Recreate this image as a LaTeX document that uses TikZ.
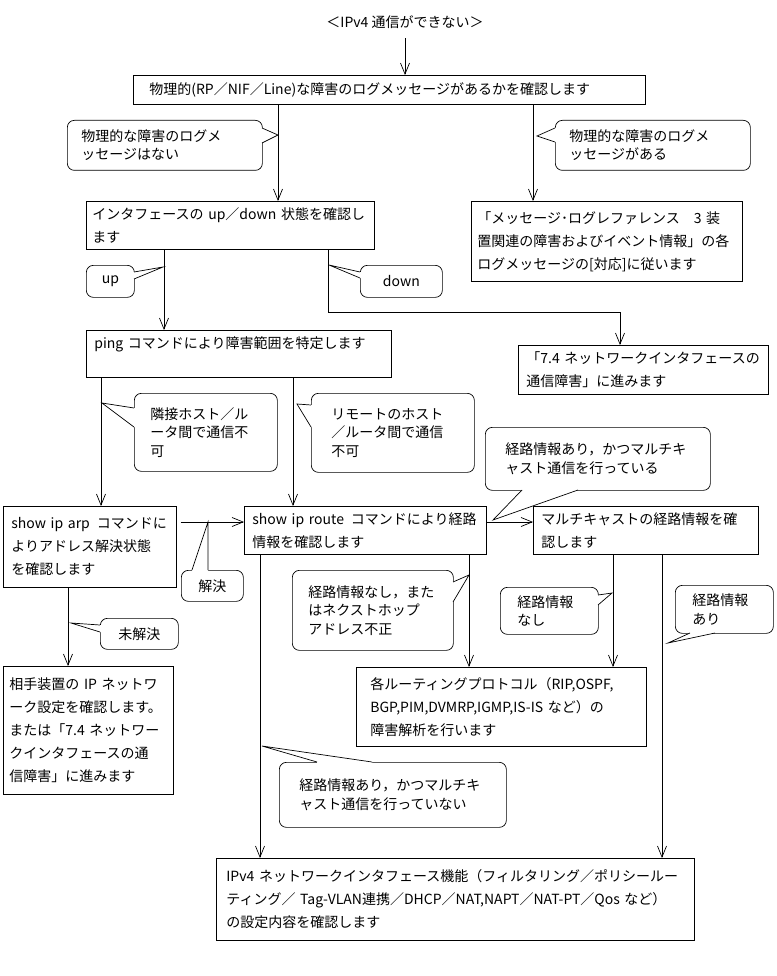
\documentclass[tikz,border=0pt]{standalone}
\usepackage{fontspec}
\setmainfont{Noto Sans CJK JP}
\usetikzlibrary{arrows.meta, calc}

\newcommand{\boxfont}{\fontsize{14}{23}\selectfont}
\newcommand{\talkfont}{\fontsize{14}{18.5}\selectfont}
% bico do balao: base 1, ponta, base 2, deslocamento para dentro
\newcommand{\beak}[4]{%
  \fill[white] ($#1+#4$) -- #1 -- #2 -- #3 -- ($#3+#4$) -- cycle;
  \draw #1 -- #2 -- #3;}

\begin{document}
\begin{tikzpicture}[x=1pt, y=-1pt, line width=0.7pt,
    >={Straight Barb[length=11pt,width=9pt]},
    box/.style={draw, anchor=north west, align=left, inner xsep=8pt,
      inner ysep=0pt, font=\boxfont},
    talk/.style={draw, rounded corners=7pt, anchor=north west, align=left,
      inner xsep=14pt, inner ysep=0pt, font=\talkfont}]

      \useasboundingbox (0,0) rectangle (776,976);

      % Colunas e linhas das setas
      \coordinate (k405) at (405,0);
      \coordinate (k278) at (278,0);
      \coordinate (k533) at (533,0);
      \coordinate (k164) at (164,0);
      \coordinate (k328) at (328,0);
      \coordinate (k620) at (620,0);
      \coordinate (k101) at (101,0);
      \coordinate (k293) at (293,0);
      \coordinate (k68) at (68,0);
      \coordinate (k469) at (469,0);
      \coordinate (k260) at (260,0);
      \coordinate (k613) at (613,0);
      \coordinate (k662) at (662,0);
      \coordinate (r312) at (0,312);
      \coordinate (r522) at (0,522);

      % Titulo
      \node[font=\boxfont] (title) at (405,22) {＜IPv4 通信ができない＞};

      % Blocos
      \node[box, minimum width=512pt, minimum height=29pt, text width=480pt,
        inner xsep=16pt] (phys) at (133,75)
        {物理的(RP／NIF／Line)な障害のログメッセージがあるかを確認します};
      \node[box, minimum width=288pt, minimum height=48pt, text width=276pt,
        inner xsep=6pt] (ifst) at (86,201)
        {インタフェースの~up／down~状態を確認し\\ます};
      \node[box, minimum width=271pt, minimum height=80pt, text width=259pt,
        inner xsep=6pt] (msglog) at (471,201)
        {「メッセージ･ログレファレンス\quad 3 装\\置関連の障害およびイベント情報」の各\\ログメッセージの[対応]に従います};
      \node[box, minimum width=305pt, minimum height=47pt, text width=289pt]
        (ping) at (86,330)
        {ping コマンドにより障害範囲を特定します\\\mbox{}};
      \node[box, minimum width=250pt, minimum height=49pt, text width=234pt]
        (nif74) at (518,345)
        {「7.4 ネットワークインタフェースの\\通信障害」に進みます};
      \node[box, minimum width=173pt, minimum height=81pt, text width=157pt]
        (arp) at (3,506)
        {show~ip~arp\enskip コマンドに\\よりアドレス解決状態\\を確認します};
      \node[box, minimum width=242pt, minimum height=48pt, text width=226pt]
        (route) at (244,506)
        {show~ip~route\enskip コマンドにより経路\\情報を確認します};
      \node[box, minimum width=225pt, minimum height=48pt, text width=209pt]
        (mcast) at (533,506)
        {マルチキャストの経路情報を確\\認します};
      \node[box, minimum width=170pt, minimum height=128pt, text width=158pt,
        inner xsep=6pt] (remote) at (3,666)
        {相手装置の~IP~ネットワ\\ーク設定を確認します。\\または「7.4~ネットワー\\クインタフェースの通\\信障害」に進みます};
      \node[box, minimum width=290pt, minimum height=79pt, text width=262pt,
        inner xsep=14pt] (proto) at (356,667)
        {各ルーティングプロトコル（RIP,OSPF,\\BGP,PIM,DVMRP,IGMP,IS-IS~など）の\\障害解析を行います};
      \node[box, minimum width=478pt, minimum height=82pt, text width=458pt,
        inner xsep=10pt] (ifcfg) at (216,858)
        {IPv4 ネットワークインタフェース機能（フィルタリング／ポリシールー\\ティング／~Tag-VLAN連携／DHCP／NAT,NAPT／NAT-PT／Qos~など）\\の設定内容を確認します};

      % Baloes
      \node[talk, minimum width=195pt, minimum height=50pt, text width=167pt]
        (cNoLog) at (67,120) {物理的な障害のログメ\\ッセージはない};
      \node[talk, minimum width=195pt, minimum height=50pt, text width=167pt]
        (cLog) at (555,120) {物理的な障害のログメ\\ッセージがある};
      \node[talk, minimum width=48pt, minimum height=32pt, inner xsep=4pt]
        (cUp) at (86,265) {up};
      \node[talk, minimum width=82pt, minimum height=32pt, inner xsep=4pt]
        (cDown) at (360,265) {down};
      \node[talk, minimum width=143pt, minimum height=78pt, text width=111pt,
        inner xsep=16pt] (cAdj) at (134,393) {隣接ホスト／ル\\ータ間で通信不\\可};
      \node[talk, minimum width=163pt, minimum height=79pt, text width=123pt,
        inner xsep=20pt] (cRem) at (311,393) {リモートのホスト\\／ルータ間で通信\\不可};
      \node[talk, minimum width=225pt, minimum height=63pt, text width=185pt,
        inner xsep=20pt] (cMcY) at (485,427) {経路情報あり，かつマルチキ\\ャスト通信を行っている};
      \node[talk, minimum width=62pt, minimum height=31pt, inner xsep=4pt]
        (cRes) at (181,570) {解決};
      \node[talk, minimum width=161pt, minimum height=80pt, text width=129pt,
        inner xsep=16pt] (cNoRt) at (292,570) {経路情報なし，また\\はネクストホップ\\アドレス不正};
      \node[talk, minimum width=98pt, minimum height=47pt, text width=64pt,
        inner xsep=17pt] (cNoMc) at (500,587) {経路情報\\なし};
      \node[talk, minimum width=98pt, minimum height=48pt, text width=64pt,
        inner xsep=17pt] (cYesMc) at (675,585) {経路情報\\あり};
      \node[talk, minimum width=78pt, minimum height=31pt, inner xsep=4pt]
        (cUnres) at (100,618) {未解決};
      \node[talk, minimum width=227pt, minimum height=65pt, text width=187pt,
        inner xsep=20pt] (cNoMcNo) at (279,762) {経路情報あり，かつマルチキ\\ャスト通信を行っていない};

      % Bicos dos baloes
      \beak{(262,128)}{(278,135)}{(262,143)}{(-2,0)}
      \beak{(555,128)}{(537,136)}{(555,142)}{(2,0)}
      \beak{(134,272)}{(163,267)}{(134,279)}{(-2,0)}
      \beak{(360,272)}{(329,265)}{(360,278)}{(2,0)}
      \beak{(134,408)}{(102,403)}{(134,427)}{(2,0)}
      \beak{(311,405)}{(297,404)}{(311,427)}{(2,0)}
      \beak{(522,490)}{(493,520)}{(578,490)}{(0,-2)}
      \beak{(192,570)}{(208,522)}{(208,570)}{(0,2)}
      \beak{(453,582)}{(469,575)}{(453,602)}{(-2,0)}
      \beak{(598,595)}{(612,593)}{(598,605)}{(-2,0)}
      \beak{(690,633)}{(668,643)}{(715,633)}{(0,-2)}
      \beak{(100,625)}{(71,623)}{(100,632)}{(2,0)}
      \beak{(317,762)}{(262,746)}{(372,762)}{(0,2)}

      % Setas
      \draw[->, shorten <=6pt] (k405 |- title.south) -- (k405 |- phys.north);
      \draw[->] (k278 |- phys.south) -- (k278 |- ifst.north);
      \draw[->] (k533 |- phys.south) -- (k533 |- msglog.north);
      \draw[->] (k164 |- ifst.south) -- (k164 |- ping.north);
      \draw[->] (k328 |- ifst.south) |- (k620 |- r312) -- (k620 |- nif74.north);
      \draw[->] (k101 |- ping.south) -- (k101 |- arp.north);
      \draw[->] (k293 |- ping.south) -- (k293 |- route.north);
      \draw[->, shorten <=4pt] (arp.east |- r522) -- (route.west |- r522);
      \draw[->] (route.east |- r522) -- (mcast.west |- r522);
      \draw[->] (k68 |- arp.south) -- (k68 |- remote.north);
      \draw[->] (k469 |- route.south) -- (k469 |- proto.north);
      \draw[->] (k260 |- route.south) -- (k260 |- ifcfg.north);
      \draw[->] (k613 |- mcast.south) -- (k613 |- proto.north);
      \draw[->] (k662 |- mcast.south) -- (k662 |- ifcfg.north);

\end{tikzpicture}
\end{document}
